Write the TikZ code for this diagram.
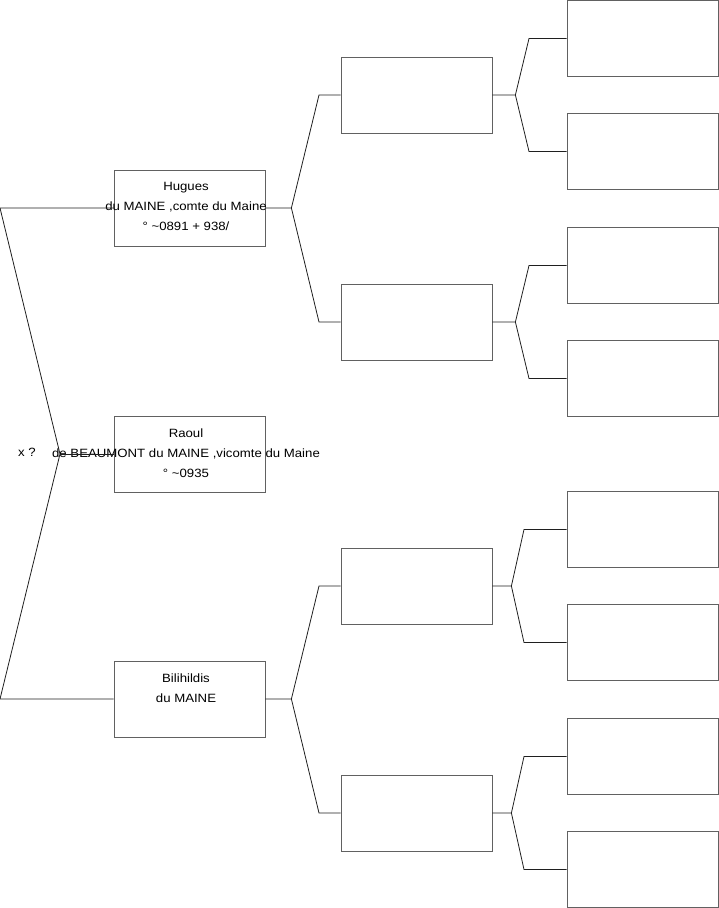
\documentclass[tikz,border=0pt]{standalone}
\usepackage{fontspec}
\setmainfont[FakeStretch=1.1]{Liberation Sans}
\begin{document}
\begin{tikzpicture}[x=1pt,y=-1pt,
  box/.style={draw=black!62,line width=0.8pt,minimum width=151pt,minimum height=76pt,inner sep=0pt},
  conn/.style={draw=black!88,line width=0.8pt},
  txt/.style={anchor=north,inner sep=0pt,align=center,font=\fontsize{12}{20}\selectfont}]
\useasboundingbox (0,0) rectangle (719,908);
% level 1
\node[box] (h) at (189.5,208) {};
\node[box] (r) at (189.5,454) {};
\node[box] (b) at (189.5,699) {};
% level 2
\node[box] (p1) at (416.5,95) {};
\node[box] (p2) at (416.5,322) {};
\node[box] (p3) at (416.5,586) {};
\node[box] (p4) at (416.5,813) {};
% level 3
\node[box] (g1) at (642.5,38.5) {};
\node[box] (g2) at (642.5,151.5) {};
\node[box] (g3) at (642.5,265.5) {};
\node[box] (g4) at (642.5,378.5) {};
\node[box] (g5) at (642.5,529.5) {};
\node[box] (g6) at (642.5,642.5) {};
\node[box] (g7) at (642.5,756.5) {};
\node[box] (g8) at (642.5,869.5) {};
% texts
\node[txt] (ht) at (186,182.3) {Hugues\\du MAINE ,comte du Maine\\° \textasciitilde0891 + 938/};
\node[txt] (rt) at (186,428.3) {Raoul\\de BEAUMONT du MAINE ,vicomte du Maine\\° \textasciitilde0935};
\node[txt] (bt) at (186,673.3) {Bilihildis\\du MAINE};
\node[anchor=base west,inner sep=0pt,font=\fontsize{12}{20}\selectfont] (x) at (18,456) {x ?};
% left fork
\coordinate (l0) at (0,208);
\coordinate (la) at (60,454);
\coordinate (l1) at (0,699);
\draw[conn] (h.west) -- (l0) -- (la) -- (l1) -- (b.west);
\draw[conn] (la) -- (r.west);
% level 1 forks
\draw[conn] (h.east) -- ++(26,0) coordinate (hf) -- (319,95) -- (p1.west);
\draw[conn] (hf) -- (319,322) -- (p2.west);
\draw[conn] (b.east) -- ++(26,0) coordinate (bf) -- (319,586) -- (p3.west);
\draw[conn] (bf) -- (319,813) -- (p4.west);
% level 2 forks
\draw[conn] (p1.east) -- ++(23,0) coordinate (f1) -- (529,38.5) -- (g1.west);
\draw[conn] (f1) -- (529,151.5) -- (g2.west);
\draw[conn] (p2.east) -- ++(23,0) coordinate (f2) -- (529,265.5) -- (g3.west);
\draw[conn] (f2) -- (529,378.5) -- (g4.west);
\draw[conn] (p3.east) -- ++(19,0) coordinate (f3) -- (524,529.5) -- (g5.west);
\draw[conn] (f3) -- (524,642.5) -- (g6.west);
\draw[conn] (p4.east) -- ++(19,0) coordinate (f4) -- (524,756.5) -- (g7.west);
\draw[conn] (f4) -- (524,869.5) -- (g8.west);
\end{tikzpicture}
\end{document}
